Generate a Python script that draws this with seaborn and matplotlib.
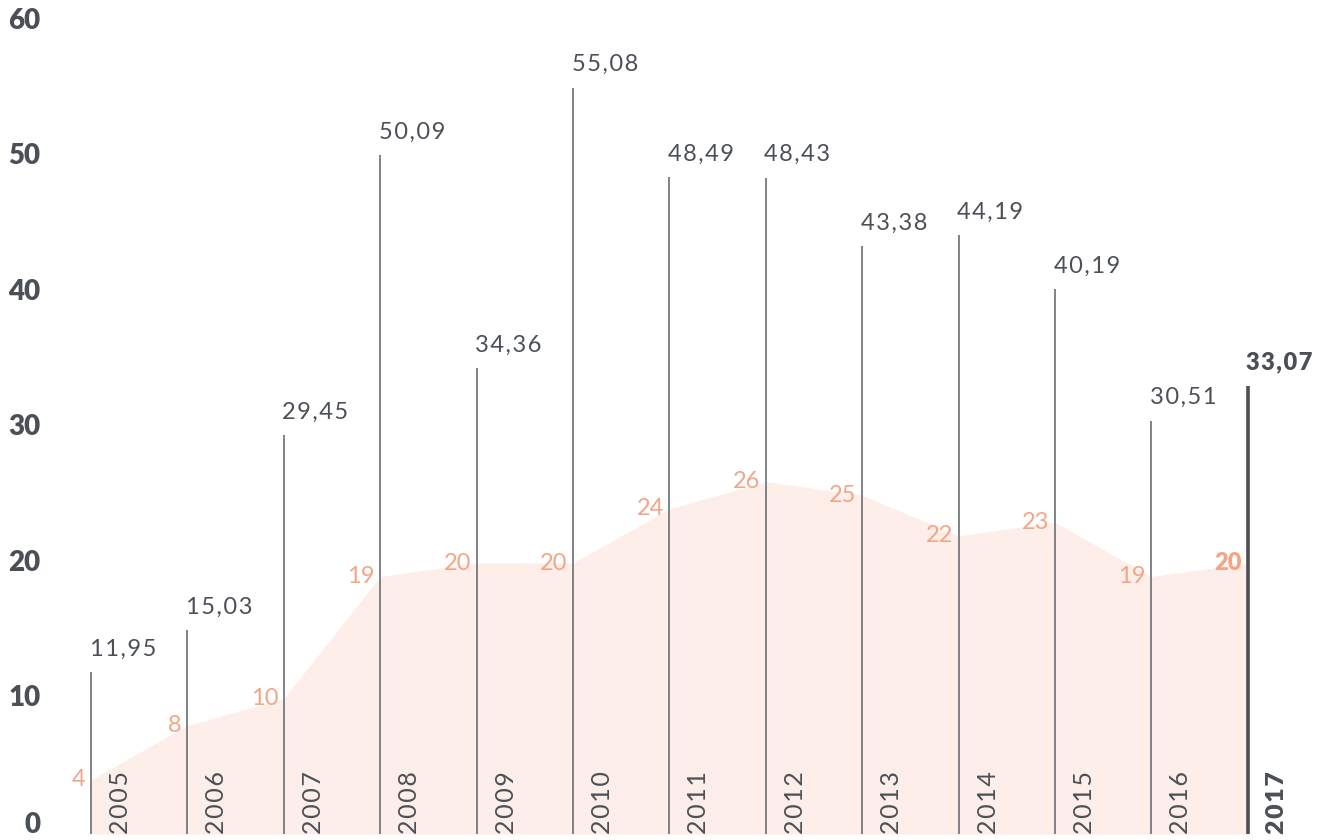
import matplotlib
matplotlib.use('Agg')
import matplotlib.pyplot as plt
import matplotlib.transforms as mtransforms
import seaborn as sns

# dados
anos = [2005, 2006, 2007, 2008, 2009, 2010, 2011, 2012, 2013, 2014, 2015, 2016, 2017]
valores = [11.95, 15.03, 29.45, 50.09, 34.36, 55.08, 48.49, 48.43, 43.38, 44.19, 40.19, 30.51, 33.07]
area = [4, 8, 10, 19, 20, 20, 24, 26, 25, 22, 23, 19, 20]
rotulos_valores = ['11,95', '15,03', '29,45', '50,09', '34,36', '55,08', '48,49',
                   '48,43', '43,38', '44,19', '40,19', '30,51', '33,07']
yticks = [0, 10, 20, 30, 40, 50, 60]

sns.set_theme(style='white')
plt.rcParams['font.family'] = ['Lato', 'DejaVu Sans']

cinza = '#4b5057'
linha = '#6a6e74'
laranja = '#f4a585'
preenchimento = '#fdeee9'

fig = plt.figure(figsize=(13.41, 8.4), dpi=100)
ax = fig.add_axes([50 / 1341, 0, 1291 / 1341, 1])

# área
ax.fill_between(anos, 0, area, color=preenchimento, linewidth=0, zorder=1)

# hastes
ax.vlines(anos[:-1], 0, valores[:-1], color=linha, linewidth=1.2, zorder=3)
ax.vlines(anos[-1:], 0, valores[-1:], color=cinza, linewidth=2.6, zorder=3)

espaco = '\u200a'
fam = ['Lato', 'DejaVu Sans']
ultimo = len(anos) - 1
for i, (a, v, f, r) in enumerate(zip(anos, valores, area, rotulos_valores)):
    destaque = i == ultimo
    peso = 'heavy' if destaque else 'normal'
    ax.annotate(espaco.join(r), (a, v), xytext=(-1, 9), textcoords='offset points',
                ha='left', va='bottom', fontsize=17, color=cinza, fontweight=peso,
                family=fam, zorder=4)
    ax.annotate(str(f), (a, f), xytext=(-4, 0), textcoords='offset points',
                ha='right', va='center', fontsize=17, color=laranja, fontweight=peso, zorder=4)
    ax.annotate(espaco.join(str(a)), (a, 0), xytext=(13, 0), textcoords='offset points',
                ha='left', va='bottom', rotation=90, fontsize=18, color=cinza,
                fontweight=peso, family=fam, zorder=4)

ax.set_xlim(2005 - 41 / 96.4, 2005 - 41 / 96.4 + 1291 / 96.4)
ymin = -6 / 13.55
ax.set_ylim(ymin, ymin + 840 / 13.55)
ax.set_yticks(yticks)
ax.set_yticklabels([str(t) for t in yticks], fontsize=20, fontweight='heavy', color=cinza)
ax.tick_params(axis='y', length=0, pad=7)
for t, lab in zip(yticks, ax.get_yticklabels()):
    dy = 8 if t == 0 else 2
    desloc = mtransforms.ScaledTranslation(0, dy / 72, fig.dpi_scale_trans)
    lab.set_transform(lab.get_transform() + desloc)
ax.set_xticks([])
for s in ax.spines.values():
    s.set_visible(False)
ax.grid(False)

fig.savefig('out.png', dpi=100)
